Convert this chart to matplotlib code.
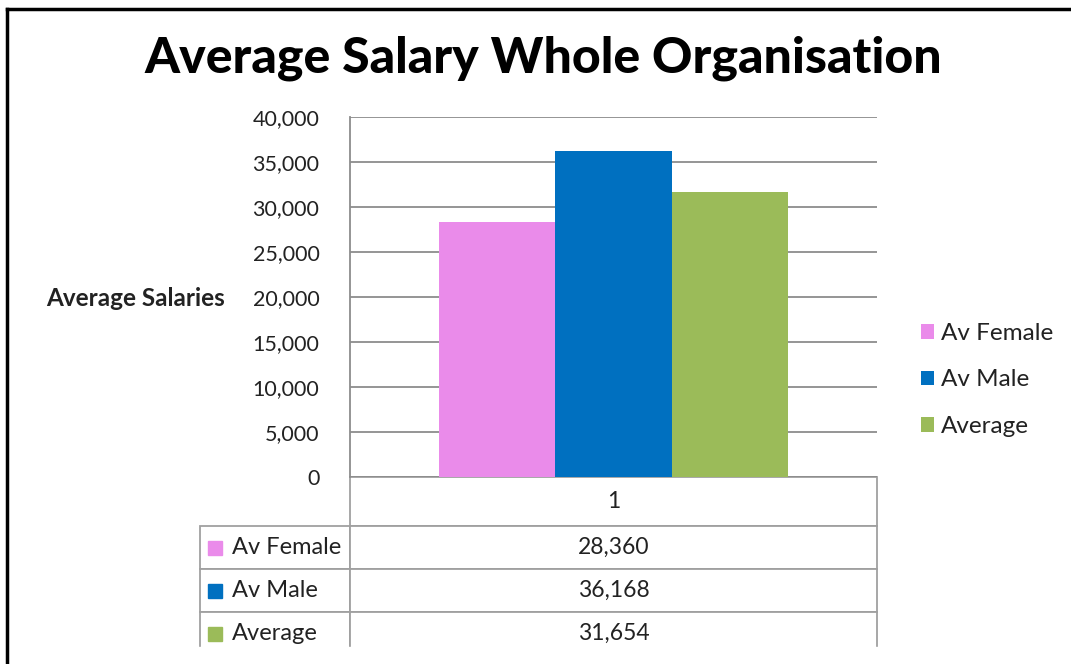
import matplotlib.pyplot as plt
from matplotlib.lines import Line2D
from matplotlib.patches import Rectangle

# data
series = ['Av Female', 'Av Male', 'Average']
values = [28360, 36168, 31654]
colors = ['#EA8BEA', '#0070C0', '#9BBB59']
category = '1'
yticks = [0, 5000, 10000, 15000, 20000, 25000, 30000, 35000, 40000]

W, H = 1071, 664
fig = plt.figure(figsize=(W / 100, H / 100), dpi=100)
plt.rcParams['font.family'] = ['Lato', 'DejaVu Sans']

# plot area in pixels
L, R, T, B = 350, 877, 117, 477
ax = fig.add_axes([L / W, 1 - B / H, (R - L) / W, (B - T) / H])

bw = 116.3 / (R - L)
for i, (s, v, c) in enumerate(zip(series, values, colors)):
    ax.bar((i - 1) * bw, v, width=bw, color=c, label=s, zorder=3)

ax.set_xlim(-0.5, 0.5)
ax.set_ylim(0, 40000)
ax.set_yticks(yticks)
ax.set_yticklabels([f'{t:,}' for t in yticks], fontsize=15.5, color='#222222')
ax.tick_params(axis='y', length=0, pad=22)
ax.set_xticks([])
ax.grid(axis='y', color='#8c8c8c', linewidth=1.3, zorder=0)
for sp in ['top', 'right', 'bottom']:
    ax.spines[sp].set_visible(False)
ax.spines['left'].set_color('#8c8c8c')
ax.spines['left'].set_linewidth(1.3)

# data table under the axis: label column + value column
pw, ph = R - L, B - T
lw = 150
th = 49 + 3 * 43
tbl = ax.table(cellText=[[s, f'{v:,}'] for s, v in zip(series, values)],
               colLabels=['', category],
               colWidths=[lw / (lw + pw), pw / (lw + pw)],
               cellLoc='center',
               bbox=[-lw / pw, -th / ph, (lw + pw) / pw, th / ph])
tbl.auto_set_font_size(False)
for (r, c), cell in tbl.get_celld().items():
    cell.set_edgecolor('#a0a0a0')
    cell.set_linewidth(1.3)
    cell.get_text().set_fontsize(16.5)
    cell.get_text().set_color('#222222')
    cell.set_height((49 if r == 0 else 43) / ph)
    if c == 0:
        cell.get_text().set_ha('left')
        cell.get_text().set_fontsize(17)
        cell.PAD = 32 / lw
        if r == 0:
            cell.visible_edges = ''

# colour keys in the row labels
for i, c in enumerate(colors):
    yc = 1 - (B + 49 + 43 * i + 21.5) / H
    fig.add_artist(Rectangle((208 / W, yc - 7 / H), 14 / W, 14 / H,
                             transform=fig.transFigure, color=c))

# crop the table at the bottom like the screenshot
fig.add_artist(Rectangle((12 / W, 0), 1, (H - 647) / H, transform=fig.transFigure,
                         color='white', zorder=10))

# title and axis label
fig.text(543 / W, 1 - 58 / H, 'Average Salary Whole Organisation', ha='center', va='center',
         fontsize=36, fontweight='black', color='black')
fig.text(136 / W, 1 - 298 / H, 'Average Salaries', ha='center', va='center',
         fontsize=17.5, fontweight='bold', color='#222222')

# legend
fig.legend(loc='center left', bbox_to_anchor=(911 / W, 1 - 380 / H), frameon=False,
           fontsize=17.5, handlelength=0.55, handleheight=0.55, handletextpad=0.3,
           labelspacing=1.05, borderaxespad=0, labelcolor='#222222')

# black page border
fig.add_artist(Line2D([7 / W, 7 / W], [0, 1 - 9 / H], transform=fig.transFigure,
                      color='black', linewidth=2.5, zorder=11))
fig.add_artist(Line2D([7 / W, 1], [1 - 9 / H, 1 - 9 / H], transform=fig.transFigure,
                      color='black', linewidth=2.5, zorder=11))

fig.savefig('out.png', dpi=100)
